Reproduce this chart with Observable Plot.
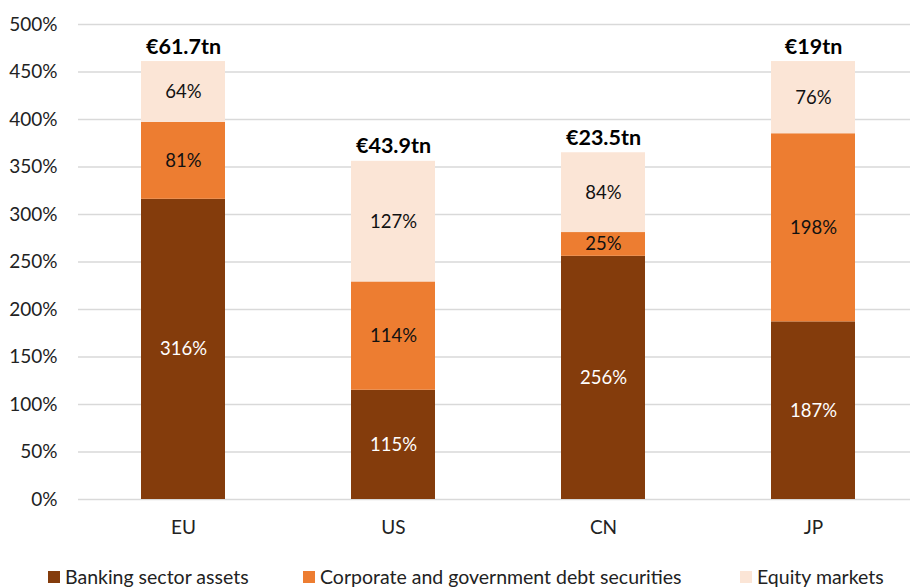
<!DOCTYPE html>
<html>
<head>
<meta charset="utf-8">
<script src="https://cdn.jsdelivr.net/npm/d3@7"></script>
<script src="https://cdn.jsdelivr.net/npm/@observablehq/plot@0.6"></script>
<style>
  html, body { margin: 0; padding: 0; background: #fff; }
  body { width: 910px; height: 587px; overflow: hidden; font-family: Lato, "Open Sans", sans-serif; }
  #wrap { position: relative; width: 910px; height: 587px; }
  #legend { position: absolute; left: 0; top: 565px; width: 910px; height: 24px; }
  .item { position: absolute; top: 0; display: flex; align-items: center; font-size: 19.5px; color: #222; white-space: nowrap; }
  .sw { width: 12px; height: 12px; margin-right: 5px; }
</style>
</head>
<body>
<div id="wrap">
  <div id="chart"></div>
  <div id="legend"></div>
</div>
<script>
const countries = ["EU", "US", "CN", "JP"];
const seriesNames = ["Banking sector assets", "Corporate and government debt securities", "Equity markets"];
const banking = [316, 115, 256, 187];
const debt = [81, 114, 25, 198];
const equity = [64, 127, 84, 76];
const totalLabels = ["€61.7tn", "€43.9tn", "€23.5tn", "€19tn"];
const colors = ["#843C0C", "#ED7D31", "#FBE5D6"];
const labelColors = ["#ffffff", "#111111", "#111111"];
const yTicks = [0, 50, 100, 150, 200, 250, 300, 350, 400, 450, 500];

const seriesValues = [banking, debt, equity];
const rows = [];
countries.forEach((c, i) => {
  let base = 0;
  seriesValues.forEach((vals, s) => {
    const v = vals[i];
    rows.push({country: c, series: seriesNames[s], value: v, y1: base, y2: base + v, mid: base + v / 2, s});
    base += v;
  });
});
const totals = countries.map((c, i) => ({country: c, total: banking[i] + debt[i] + equity[i], label: totalLabels[i]}));

const chart = Plot.plot({
  width: 910,
  height: 556,
  marginLeft: 78,
  marginRight: 0,
  marginTop: 24,
  marginBottom: 57,
  style: {fontFamily: "Lato, 'Open Sans', sans-serif", fontSize: "19px", color: "#222", background: "#fff"},
  x: {domain: countries, range: [78, 918], paddingInner: 0.6, paddingOuter: 0.3, label: null},
  y: {domain: [0, 500], label: null},
  color: {domain: seriesNames, range: colors},
  marks: [
    Plot.ruleY(yTicks, {stroke: "#d9d9d9", strokeWidth: 1.5}),
    Plot.rectY(rows, {x: "country", y1: "y1", y2: "y2", fill: "series"}),
    ...[0, 1, 2].map(s => Plot.text(rows.filter(r => r.s === s), {x: "country", y: "mid", text: d => d.value + "%", fill: labelColors[s], fontSize: 18.5})),
    Plot.text(totals, {x: "country", y: "total", text: "label", lineAnchor: "bottom", dy: -8, fontWeight: "bold", fontSize: 21.5, fill: "#000"}),
    Plot.axisX({tickSize: 0, tickPadding: 21, fontSize: 19, label: null}),
    Plot.axisY({ticks: yTicks, tickFormat: d => d + "%", tickSize: 0, tickPadding: 21, fontSize: 19, label: null})
  ]
});
document.getElementById("chart").appendChild(chart);

const legend = document.getElementById("legend");
const lefts = [48, 303, 740];
seriesNames.forEach((n, i) => {
  const el = document.createElement("div");
  el.className = "item";
  el.style.left = lefts[i] + "px";
  el.innerHTML = `<span class="sw" style="background:${colors[i]}"></span><span>${n}</span>`;
  legend.appendChild(el);
});
</script>
</body>
</html>
